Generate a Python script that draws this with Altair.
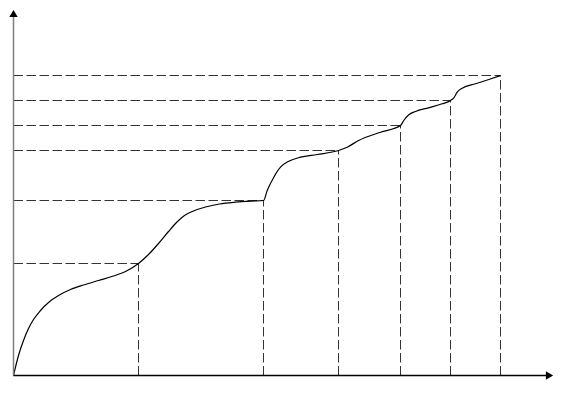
import altair as alt
import pandas as pd

# curve points (x, y) in chart units
curve_x = [0, 5, 10, 15, 20, 27, 35, 45, 57, 70, 85, 100, 113, 125,
           135, 145, 155, 163, 171, 180, 192, 206, 222, 238, 250,
           253.7, 260.3, 267, 275.3, 287, 303.7, 325,
           333.7, 345, 367, 387,
           390.3, 395.3, 402, 415, 428.7, 437,
           440.3, 443.7, 448.7, 462, 475.3, 487]
curve_y = [0, 20, 35, 47, 56, 65, 73, 80, 86, 90.5, 95, 99.5, 104.5, 112,
           121, 132, 144, 153, 160, 164.5, 168.5, 171.5, 173.3, 174.4, 175,
           185, 198.3, 208.3, 214.3, 218.3, 221, 225,
           228.3, 235, 243.3, 250,
           255, 260.7, 264, 267.7, 271.7, 275,
           277.7, 283.3, 287.3, 291.7, 296, 300]

# key points where dashed guides are drawn
key_x = [125, 250, 325, 387, 437, 487]
key_y = [112, 175, 225, 250, 275, 300]

curve = pd.DataFrame({"x": curve_x, "y": curve_y, "o": range(len(curve_x))})
keys = pd.DataFrame({"x": key_x, "y": key_y, "zero": [0] * len(key_x)})

xs = alt.Scale(domain=[-5.5, 540.5], nice=False, zero=False)
ys = alt.Scale(domain=[-16.5, 367.5], nice=False, zero=False)

X = lambda f: alt.X(f, type="quantitative", scale=xs, axis=None)
Y = lambda f: alt.Y(f, type="quantitative", scale=ys, axis=None)

base_dash = dict(strokeDash=[9.5, 3.5], color="#333333", strokeWidth=1)

hdash = alt.Chart(keys).mark_rule(**base_dash).encode(
    x=X("zero"), x2="x", y=Y("y"))
vdash = alt.Chart(keys).mark_rule(**base_dash).encode(
    x=X("x"), y=Y("zero"), y2="y")

line = alt.Chart(curve).mark_line(color="black", strokeWidth=1.2,
                                  interpolate="monotone").encode(
    x=X("x"), y=Y("y"), order="o:Q")

axes_df = pd.DataFrame({"x0": [0, 0], "y0": [0, 0], "x1": [0, 533],
                        "y1": [362, 0], "c": ["#808080", "black"]})
axes = alt.Chart(axes_df).mark_rule(strokeWidth=1.5).encode(
    x=X("x0"), y=Y("y0"), x2="x1", y2="y1",
    color=alt.Color("c:N", scale=None))

arrow_up = alt.Chart(pd.DataFrame({"x": [0], "y": [362]})).mark_point(
    shape="triangle-up", filled=True, color="black", size=70, opacity=1).encode(
    x=X("x"), y=Y("y"))
arrow_right = alt.Chart(pd.DataFrame({"x": [536], "y": [0]})).mark_point(
    shape="triangle-right", filled=True, color="black", size=70, opacity=1).encode(
    x=X("x"), y=Y("y"))

chart = alt.layer(hdash, vdash, line, axes, arrow_up, arrow_right).properties(
    width=546, height=384, padding=0, autosize=alt.AutoSizeParams(type="none"),
    background="white"
).configure_view(stroke=None)

chart.save("out.html", embed_options={"renderer": "svg", "actions": False})
